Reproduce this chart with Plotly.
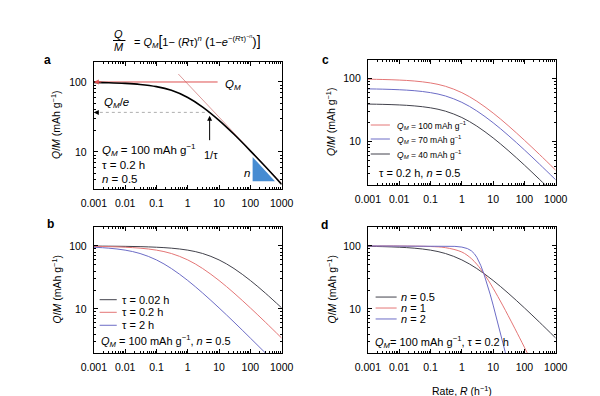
import numpy as np
import plotly.graph_objects as go

# ---------------- data ----------------
R_grid = [0.001, 0.003, 0.01, 0.03, 0.1, 0.3, 1, 3, 10, 30, 100, 300, 1000]

# panel a / reference curve (QM=100, tau=0.2 h, n=0.5)
q_tau02 = [98.59, 97.55, 95.53, 92.25, 85.87, 75.92, 60.06, 43.84, 28.31, 17.90, 10.39, 6.19, 3.45]
# panel b
q_tau002 = [99.55, 99.23, 98.59, 97.55, 95.53, 92.25, 85.87, 75.92, 60.06, 43.84, 28.31, 17.90, 10.39]
q_tau2 = [95.53, 92.25, 85.87, 75.92, 60.06, 43.84, 28.31, 17.90, 10.39, 6.19, 3.45, 2.01, 1.11]
# panel c
q_qm100 = q_tau02
q_qm70 = [69.01, 68.29, 66.87, 64.58, 60.11, 53.14, 42.04, 30.69, 19.82, 12.53, 7.28, 4.33, 2.42]
q_qm40 = [39.43, 39.02, 38.21, 36.90, 34.35, 30.37, 24.02, 17.54, 11.32, 7.16, 4.16, 2.47, 1.38]
# panel d
R_n1 = [0.001, 0.01, 0.1, 0.3, 1, 2, 3, 4, 5, 7, 10, 20, 30, 50, 100, 200]
q_n1 = [99.98, 99.8, 98.0, 94.0, 80.13, 63.28, 51.33, 42.92, 36.79, 28.54, 21.31, 11.52, 7.89, 4.84, 2.46, 1.24]
R_n2 = [0.001, 0.1, 0.3, 0.6, 1, 1.5, 2, 2.5, 3, 3.5, 4, 5, 6, 7, 8, 10, 12, 15, 20, 25, 30]
q_n2 = [100.0, 99.96, 99.64, 98.56, 96.0, 91.0, 84.03, 75.46, 66.24, 57.37, 49.42, 36.79, 27.91, 21.67,
        17.22, 11.52, 8.20, 5.36, 3.06, 1.97, 1.38]

# panel a annotation geometry (data units)
qm_line_x = [0.001, 9]
qm_line_y = [100, 100]
qme_line_x = [0.001, 5]
qme_line_y = [36.79, 36.79]
tangent_x = [0.5, 1000]
tangent_y = [130, 3.55]
tri_x = [118, 118, 610, 118]
tri_y = [8.5, 3.81, 3.81, 8.5]

x_ticks = [0.001, 0.01, 0.1, 1, 10, 100, 1000]
x_ticktext = ["0.001", "0.01", "0.1", "1", "10", "100", "1000"]
y_ticks = [10, 100]
y_ticktext = ["10", "100"]

# ---------------- styles ----------------
RED = "rgb(228,118,118)"
BLUE = "rgb(108,108,198)"
DARK = "rgb(66,66,76)"
FONT = "Liberation Sans, Arial, sans-serif"

x_minor = [m * 10.0 ** k for k in range(-3, 3) for m in range(2, 10)]
y_minor = [m * 10.0 ** k for k in range(0, 3) for m in range(2, 10) if m * 10.0 ** k <= 200]

fig = go.Figure()

def add(x, y, xa, ya, color, width=1.0, shape="spline", dash=None):
    fig.add_trace(go.Scatter(x=x, y=y, xaxis=xa, yaxis=ya, mode="lines",
                             line=dict(color=color, width=width, shape=shape, dash=dash),
                             showlegend=False, hoverinfo="skip"))

# panel a
add(tangent_x, tangent_y, "x", "y", "rgb(220,155,155)", 1.0, "linear")
add(qm_line_x, qm_line_y, "x", "y", "rgb(222,80,80)", 1.0, "linear")
add(qme_line_x, qme_line_y, "x", "y", "rgb(175,175,175)", 1.0, "linear", "dot")
fig.add_trace(go.Scatter(x=tri_x, y=tri_y, xaxis="x", yaxis="y", mode="lines", fill="toself",
                         fillcolor="rgb(70,140,210)", line=dict(width=0, color="rgb(70,140,210)"),
                         showlegend=False, hoverinfo="skip"))
add(R_grid, q_tau02, "x", "y", "black", 1.6)

# panel c
add(R_grid, q_qm100, "x2", "y2", RED)
add(R_grid, q_qm70, "x2", "y2", BLUE)
add(R_grid, q_qm40, "x2", "y2", DARK)

# panel b
add(R_grid, q_tau002, "x3", "y3", DARK)
add(R_grid, q_tau02, "x3", "y3", RED)
add(R_grid, q_tau2, "x3", "y3", BLUE)

# panel d
add(R_grid, q_tau02, "x4", "y4", DARK)
add(R_n1, q_n1, "x4", "y4", RED)
add(R_n2, q_n2, "x4", "y4", BLUE, shape="linear")

def xaxis(domain, anchor, title=None):
    return dict(type="log", domain=domain, anchor=anchor, range=[-3, 3],
                tickmode="array", tickvals=x_ticks, ticktext=x_ticktext,
                ticks="inside", ticklen=4, tickwidth=1, tickcolor="black",
                minor=dict(tickmode="array", tickvals=x_minor, ticks="inside", ticklen=2,
                           tickcolor="black", showgrid=False),
                showline=True, linecolor="black", linewidth=1, mirror="allticks",
                showgrid=False, zeroline=False, ticklabelstandoff=4,
                tickfont=dict(family=FONT, size=10.5, color="black"))

def yaxis(domain, anchor, rng):
    return dict(type="log", domain=domain, anchor=anchor, range=rng,
                tickmode="array", tickvals=y_ticks, ticktext=y_ticktext,
                ticks="inside", ticklen=4, tickwidth=1, tickcolor="black",
                minor=dict(tickmode="array", tickvals=y_minor, ticks="inside", ticklen=2,
                           tickcolor="black", showgrid=False),
                showline=True, linecolor="black", linewidth=1, mirror="allticks",
                showgrid=False, zeroline=False, ticklabelstandoff=4,
                tickfont=dict(family=FONT, size=10.5, color="black"))

dx_left = [76 / 600, 272 / 600]
dx_right = [362 / 600, 558 / 600]
fig.update_layout(
    width=600, height=396, margin=dict(l=0, r=0, t=0, b=0),
    paper_bgcolor="white", plot_bgcolor="white",
    font=dict(family=FONT, color="black", size=11),
    xaxis=xaxis(dx_left, "y"),
    yaxis=yaxis([1 - 181 / 396, 1 - 54 / 396], "x", [np.log10(2.96), np.log10(193)]),
    xaxis2=xaxis(dx_right, "y2"),
    yaxis2=yaxis([1 - 177 / 396, 1 - 52 / 396], "x2", [np.log10(2), np.log10(200)]),
    xaxis3=xaxis(dx_left, "y3"),
    yaxis3=yaxis([1 - 345 / 396, 1 - 219 / 396], "x3", [np.log10(2), np.log10(200)]),
    xaxis4=xaxis(dx_right, "y4"),
    yaxis4=yaxis([1 - 345 / 396, 1 - 219 / 396], "x4", [np.log10(2), np.log10(200)]),
)

ann = []
def txt(x, y, text, xref="paper", yref="paper", size=11, xanchor="left", yanchor="middle", angle=0, color="black"):
    ann.append(dict(x=x, y=y, xref=xref, yref=yref, text=text, showarrow=False,
                    xanchor=xanchor, yanchor=yanchor, textangle=angle,
                    font=dict(family=FONT, size=size, color=color)))

def px(x):
    return x / 600
def py(y):
    return 1 - y / 396

# formula title
txt(px(102), py(26), "<i>Q</i>", size=11, xanchor="center")
txt(px(102), py(39), "<i>M</i>", size=11, xanchor="center")
txt(px(116), py(33),
    "= <i>Q<sub>M</sub></i><span style='font-size:14px'>[</span>1− (<i>R</i>τ)<sup><i>n</i></sup>"
    " <span style='font-size:13px'>(</span>1−<i>e</i><sup>−(<i>R</i>τ)<sup>−<i>n</i></sup></sup>"
    "<span style='font-size:13px'>)</span><span style='font-size:14px'>]</span>", size=11)

# panel letters
for lx, ly, lt in [(28, 52, "a"), (31, 216, "b"), (318, 52, "c"), (317, 217, "d")]:
    txt(px(lx), py(ly), "<b>" + lt + "</b>", size=12, xanchor="center")

# y titles
ytitle = "<i>Q</i>/<i>M</i> (mAh g<sup>−1</sup>)"
for tx, ty in [(36, 117.5), (36, 282), (323, 114.5), (323, 282)]:
    txt(px(tx), py(ty), ytitle, size=10.5, xanchor="center", angle=-90)

# x title
txt(px(460), py(382), "Rate, <i>R</i> (h<sup>−1</sup>)", size=10.5, xanchor="center")

# panel a texts
txt(0.031, 0.307, "<i>Q<sub>M</sub></i> = 100 mAh g<sup>−1</sup>", "x domain", "y domain", 11.5)
txt(0.031, 0.189, "τ = 0.2 h", "x domain", "y domain", 11.5)
txt(0.031, 0.079, "<i>n</i> = 0.5", "x domain", "y domain", 11.5)
txt(0.046, 0.677, "<i>Q<sub>M</sub></i>/<i>e</i>", "x domain", "y domain", 11.5)
txt(0.689, 0.819, "<i>Q<sub>M</sub></i>", "x domain", "y domain", 11.5)
txt(0.622, 0.268, "1/τ", "x domain", "y domain", 11, xanchor="center")
txt(0.816, 0.126, "<i>n</i>", "x domain", "y domain", 11.5, xanchor="center")

# arrows in panel a
ann.append(dict(x=np.log10(0.001), y=2, xref="x", yref="y", ax=9, ay=0, text="",
                showarrow=True, arrowhead=2, arrowsize=1, arrowwidth=1, arrowcolor="rgb(222,80,80)"))
ann.append(dict(x=np.log10(0.001), y=np.log10(36.79), xref="x", yref="y", ax=6, ay=0, text="",
                showarrow=True, arrowhead=2, arrowsize=1, arrowwidth=1, arrowcolor="black"))
ann.append(dict(x=np.log10(5), y=np.log10(33), xref="x", yref="y", ax=0, ay=26, text="",
                showarrow=True, arrowhead=2, arrowsize=1, arrowwidth=1, arrowcolor="black"))

shapes = [dict(type="line", xref="paper", yref="paper", x0=px(96), x1=px(109), y0=py(32.5), y1=py(32.5),
               line=dict(color="black", width=1))]

# legend-like rows
def leg(xref, yref, x0, x1, xt, rows, size):
    for yy, color, label in rows:
        shapes.append(dict(type="line", xref=xref, yref=yref, x0=x0, x1=x1, y0=yy, y1=yy,
                           line=dict(color=color, width=1)))
        txt(xt, yy, label, xref, yref, size)

leg("x2 domain", "y2 domain", 0.015, 0.117, 0.143, [
    (0.48, RED, "<i>Q<sub>M</sub></i> = 100 mAh g<sup>−1</sup>"),
    (0.368, BLUE, "<i>Q<sub>M</sub></i> = 70 mAh g<sup>−1</sup>"),
    (0.248, DARK, "<i>Q<sub>M</sub></i> = 40 mAh g<sup>−1</sup>")], 8.5)
txt(0.051, 0.096, "τ = 0.2 h, <i>n</i> = 0.5", "x2 domain", "y2 domain", 11)

leg("x3 domain", "y3 domain", 0.031, 0.122, 0.138, [
    (0.423, DARK, "τ = 0.02 h"),
    (0.323, RED, "τ = 0.2 h"),
    (0.22, BLUE, "τ = 2 h")], 11)
txt(0.026, 0.095, "<i>Q<sub>M</sub></i> = 100 mAh g<sup>−1</sup>, <i>n</i> = 0.5", "x3 domain", "y3 domain", 11)

leg("x4 domain", "y4 domain", 0.041, 0.153, 0.168, [
    (0.444, DARK, "<i>n</i> = 0.5"),
    (0.357, RED, "<i>n</i> = 1"),
    (0.27, BLUE, "<i>n</i> = 2")], 11)
txt(0.026, 0.087, "<i>Q<sub>M</sub></i>= 100 mAh g<sup>−1</sup>, τ = 0.2 h", "x4 domain", "y4 domain", 11)

fig.update_layout(annotations=ann, shapes=shapes)
fig.write_html("out.html")
